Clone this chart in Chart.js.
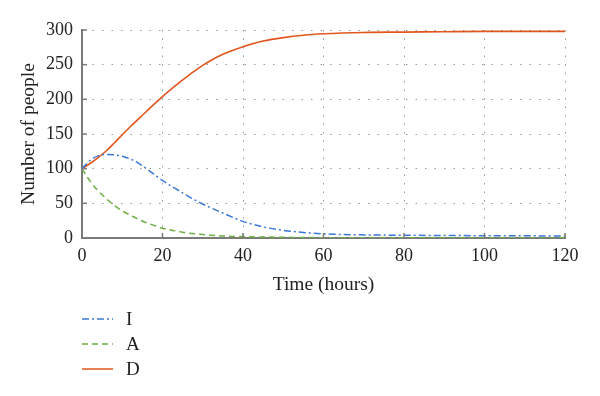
<!DOCTYPE html>
<html>
<head>
<meta charset="utf-8">
<script src="https://cdn.jsdelivr.net/npm/chart.js@4"></script>
<style>
  html, body { margin: 0; padding: 0; background: #fff; }
  #box { width: 600px; height: 396px; }
</style>
</head>
<body>
<div id="box"><canvas id="grafico"></canvas></div>
<script>
// dados
const tempos = [0, 2, 4, 6, 8, 10, 12, 14, 16, 18, 20, 22, 24, 26, 28, 30, 32, 35, 40, 45, 50, 55, 60, 70, 80, 90, 100, 110, 120];
const valoresI = [100, 112, 118.5, 120.5, 120, 118, 114, 108, 100, 91.5, 83, 75.5, 68.5, 61.5, 55, 49, 43.5, 36, 24, 16, 11, 8, 6, 4.5, 4, 3.6, 3.3, 3.1, 3];
const valoresA = [100, 82, 68, 57, 47, 39, 33, 27, 22, 18, 14, 11.5, 9.5, 7.5, 6, 5, 4, 3, 2, 1.4, 1, 0.7, 0.5, 0.3, 0.25, 0.2, 0.2, 0.2, 0.2];
const valoresD = [100, 107.5, 116, 125.5, 137, 149, 160.5, 171.5, 182.5, 193.5, 204, 214, 223.5, 232.5, 241, 249, 256, 265, 276, 284, 289, 292.5, 294.5, 296.5, 297, 297.5, 298, 298, 298];
const ticksX = [0, 20, 40, 60, 80, 100, 120];
const ticksY = [0, 50, 100, 150, 200, 250, 300];

const fonteSerif = "'Liberation Serif', 'DejaVu Serif', serif";
const corEixo = '#7a7a7a';

function pontos(valores) {
  return tempos.map((t, i) => ({ x: t, y: valores[i] }));
}

// legenda vertical embaixo + marcas dos ticks para dentro
const pluginExtra = {
  id: 'extra',
  afterDraw(chart) {
    const ctx = chart.ctx;
    const sx = chart.scales.x, sy = chart.scales.y;
    ctx.save();
    ctx.strokeStyle = corEixo;
    ctx.lineWidth = 1.5;
    ctx.setLineDash([]);
    for (const v of ticksX) {
      const px = sx.getPixelForValue(v);
      ctx.beginPath(); ctx.moveTo(px, sy.bottom); ctx.lineTo(px, sy.bottom - 5); ctx.stroke();
    }
    for (const v of ticksY) {
      const py = sy.getPixelForValue(v);
      ctx.beginPath(); ctx.moveTo(sx.left, py); ctx.lineTo(sx.left + 5, py); ctx.stroke();
    }
    // legenda
    chart.data.datasets.forEach((ds, i) => {
      const y = 319 + i * 25;
      ctx.strokeStyle = ds.borderColor;
      ctx.lineWidth = 1.5;
      ctx.setLineDash(ds.borderDash || []);
      ctx.beginPath(); ctx.moveTo(82, y); ctx.lineTo(113, y); ctx.stroke();
      ctx.setLineDash([]);
      ctx.fillStyle = '#222';
      ctx.font = '19px ' + fonteSerif;
      ctx.textBaseline = 'middle';
      ctx.fillText(ds.label, 126, y + 1);
    });
    ctx.restore();
  }
};

new Chart(document.getElementById('grafico'), {
  type: 'line',
  data: {
    datasets: [
      { label: 'I', data: pontos(valoresI), borderColor: '#3b78d6', borderDash: [7, 3, 2, 3], borderWidth: 1.5, pointRadius: 0, cubicInterpolationMode: 'monotone', fill: false },
      { label: 'A', data: pontos(valoresA), borderColor: '#6fae42', borderDash: [6, 4], borderWidth: 1.5, pointRadius: 0, cubicInterpolationMode: 'monotone', fill: false },
      { label: 'D', data: pontos(valoresD), borderColor: '#e0561e', borderWidth: 1.6, pointRadius: 0, cubicInterpolationMode: 'monotone', fill: false }
    ]
  },
  options: {
    responsive: true,
    maintainAspectRatio: false,
    animation: false,
    layout: { padding: { top: 30, right: 35, left: 0, bottom: 99 } },
    plugins: { legend: { display: false }, tooltip: { enabled: false } },
    scales: {
      x: {
        type: 'linear', min: 0, max: 120,
        afterBuildTicks: s => { s.ticks = ticksX.map(v => ({ value: v })); },
        ticks: { color: '#222', font: { family: fonteSerif, size: 18 }, padding: 7, maxRotation: 0 },
        grid: { color: '#999', lineWidth: 1, drawTicks: false },
        border: { display: true, color: corEixo, width: 2, dash: [1.5, 7] },
        title: { display: true, text: 'Time (hours)', color: '#222', font: { family: fonteSerif, size: 19.5 }, padding: { top: 0, bottom: 0 } }
      },
      y: {
        min: 0, max: 300,
        afterBuildTicks: s => { s.ticks = ticksY.map(v => ({ value: v })); },
        afterFit: s => { s.width = 82; },
        ticks: { color: '#222', font: { family: fonteSerif, size: 18 }, padding: 9 },
        grid: { color: '#999', lineWidth: 1, drawTicks: false },
        border: { display: true, color: corEixo, width: 2, dash: [1.5, 8] },
        title: { display: true, text: 'Number of people', color: '#222', font: { family: fonteSerif, size: 19.5 }, padding: { top: 17, bottom: 0 } }
      }
    }
  },
  plugins: [pluginExtra]
});
</script>
</body>
</html>
